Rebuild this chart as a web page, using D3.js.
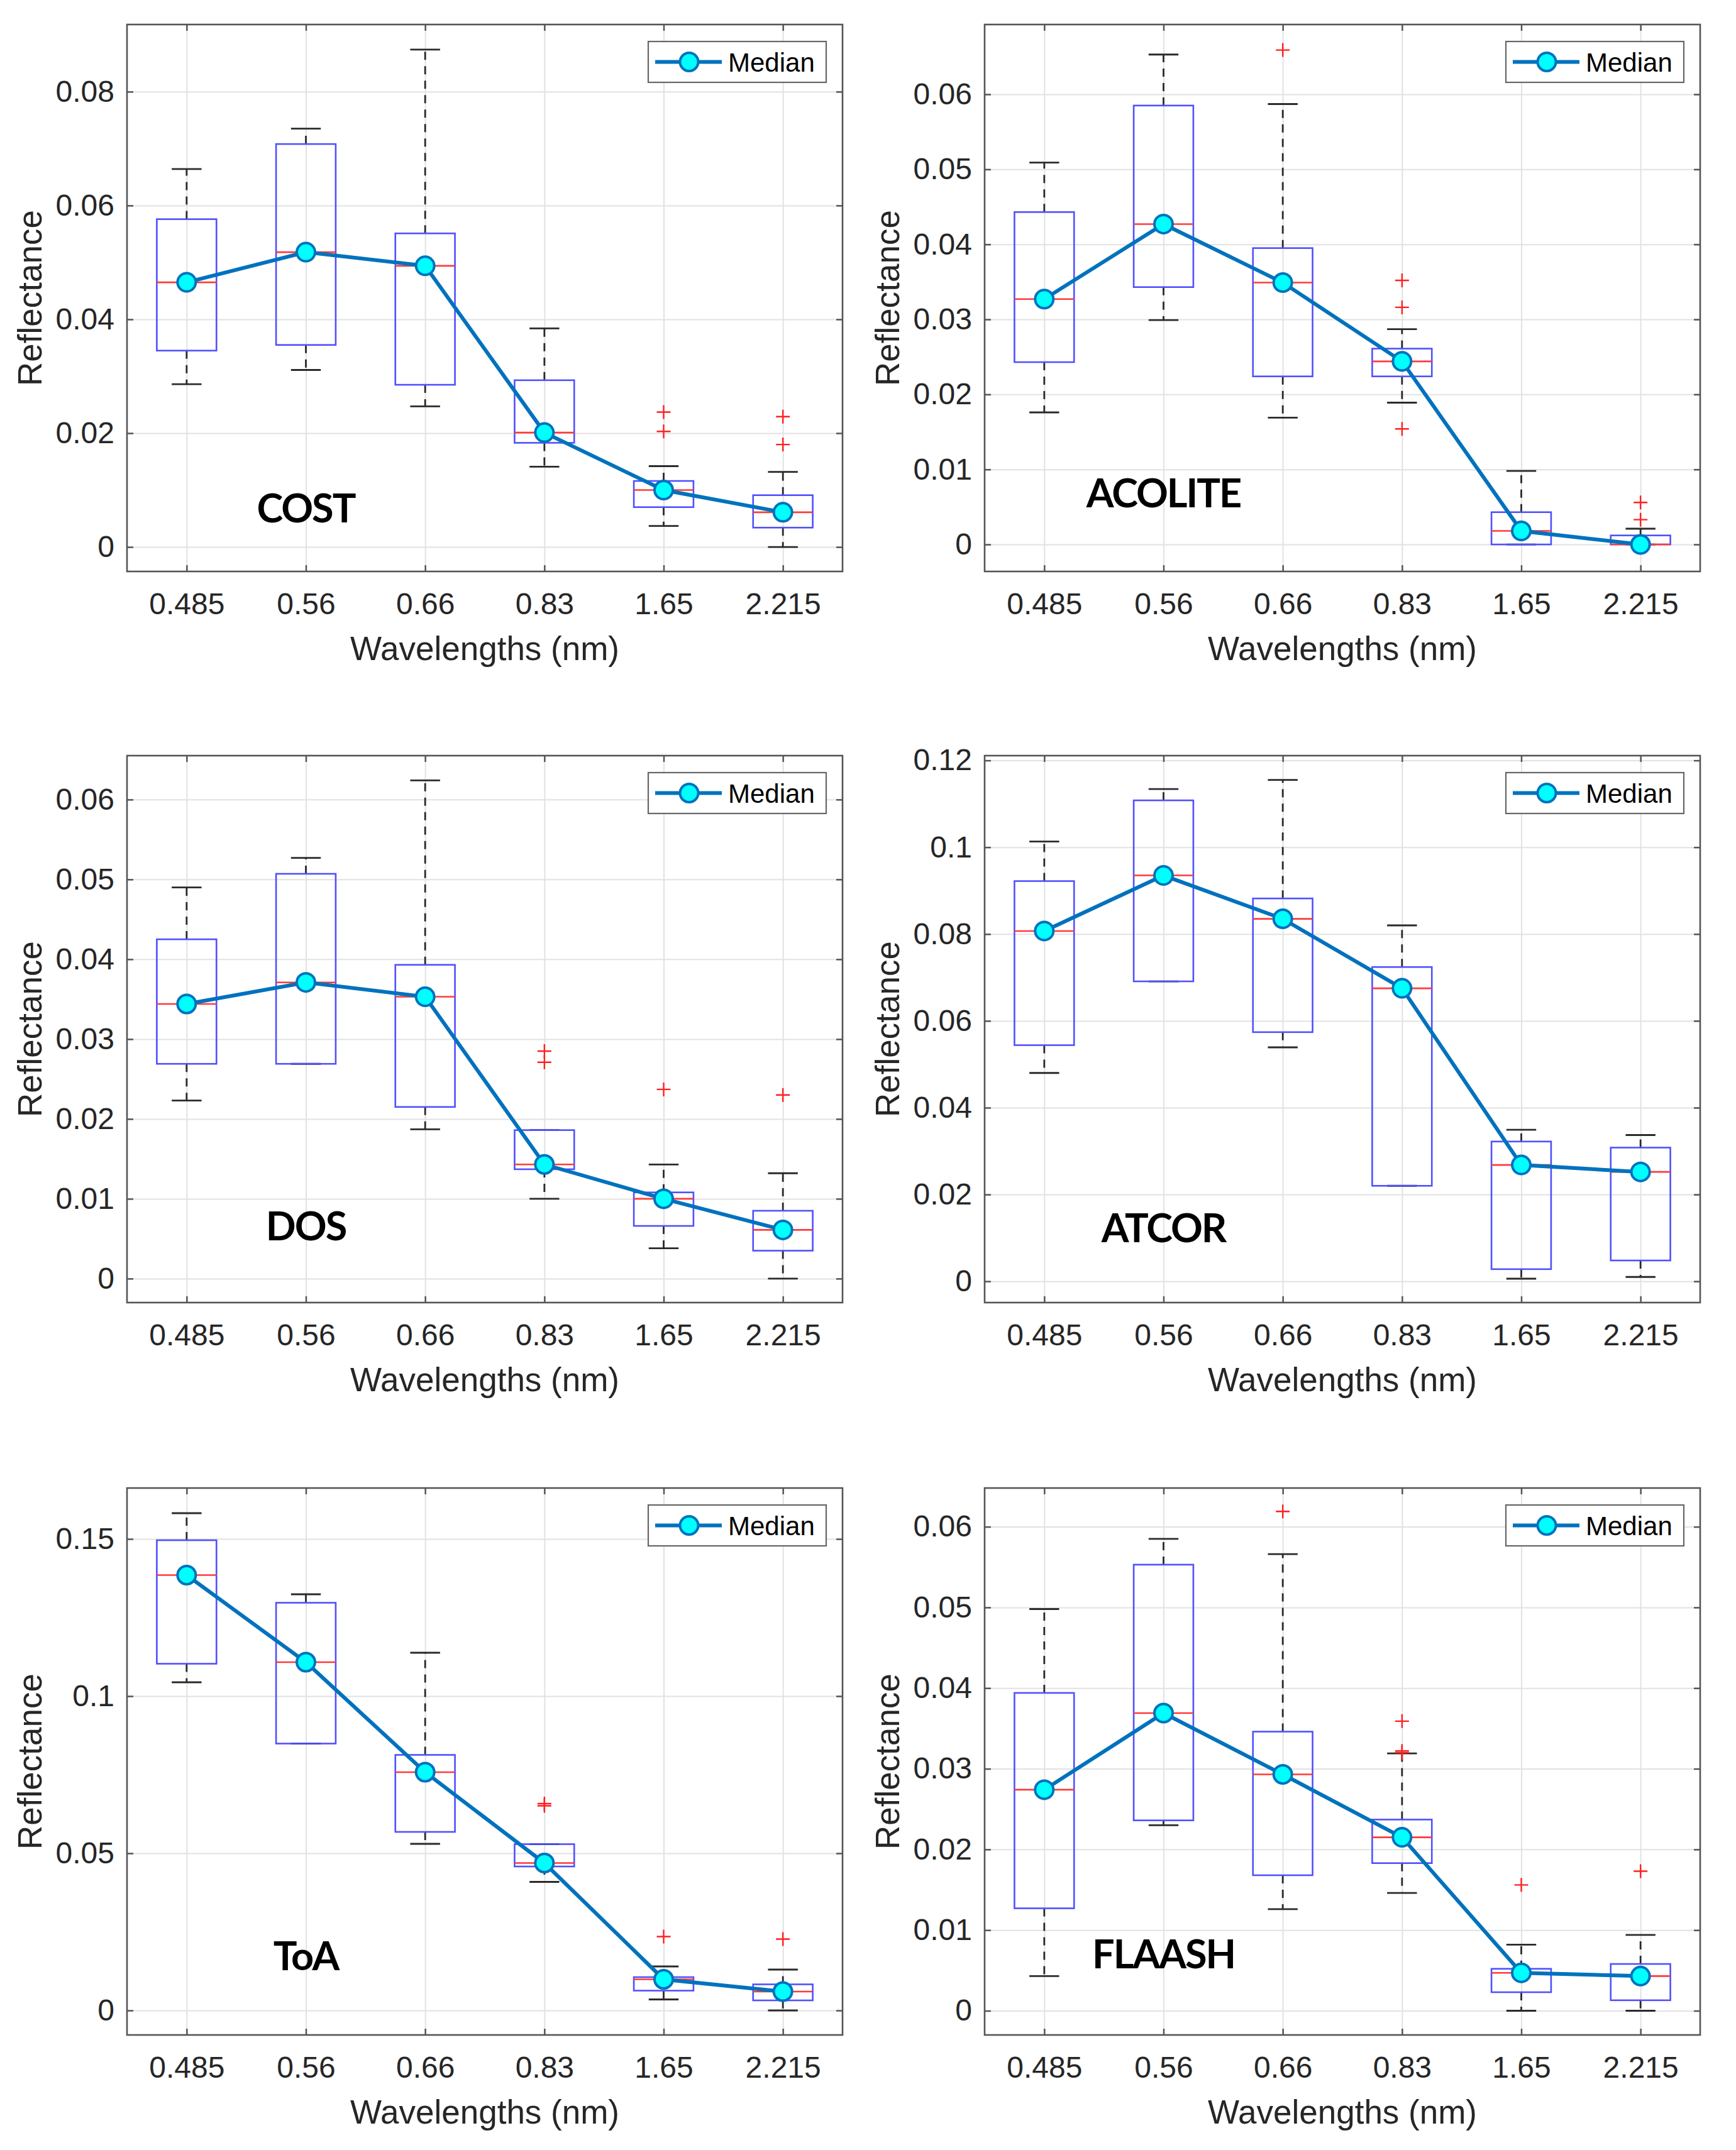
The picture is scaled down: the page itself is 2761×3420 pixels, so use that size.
<!DOCTYPE html>
<html>
<head>
<meta charset="utf-8">
<script src="https://cdn.jsdelivr.net/npm/d3@7"></script>
<style>
  body { margin: 0; background: #fff; }
</style>
</head>
<body>
<div id="chart"></div>
<script>
// data
var categories = ["0.485", "0.56", "0.66", "0.83", "1.65", "2.215"];
var methods = ["COST", "ACOLITE", "DOS", "ATCOR", "ToA", "FLAASH"];

// one row per method, one value per wavelength
var whiskerLow = [
  [0.0286, 0.0311, 0.0247, 0.0141, 0.0037, 0.0],
  [0.0176, 0.0299, 0.0169, 0.0189, 0.0, 0.0],
  [0.0223, 0.0269, 0.0187, 0.0100, 0.0038, 0.0],
  [0.0480, 0.0691, 0.0539, 0.0220, 0.0006, 0.0010],
  [0.1044, 0.0849, 0.0530, 0.0409, 0.0035, 0.0],
  [0.0043, 0.0230, 0.0126, 0.0146, 0.0, 0.0],
];
var quartile1 = [
  [0.0345, 0.0355, 0.0285, 0.0183, 0.0070, 0.0034],
  [0.0243, 0.0343, 0.0224, 0.0224, 0.0, 0.0],
  [0.0269, 0.0269, 0.0215, 0.0137, 0.0066, 0.0035],
  [0.0544, 0.0691, 0.0574, 0.0220, 0.0028, 0.0048],
  [0.1103, 0.0849, 0.0568, 0.0458, 0.0063, 0.0032],
  [0.0127, 0.0236, 0.0168, 0.0183, 0.0023, 0.0013],
];
var medians = [
  [0.0465, 0.0518, 0.0494, 0.0201, 0.0100, 0.0061],
  [0.0327, 0.0427, 0.0349, 0.0244, 0.0018, 0.0],
  [0.0344, 0.0371, 0.0353, 0.0143, 0.0100, 0.0061],
  [0.0807, 0.0935, 0.0835, 0.0675, 0.0268, 0.0252],
  [0.1385, 0.1108, 0.0758, 0.0469, 0.0099, 0.0060],
  [0.0274, 0.0369, 0.0293, 0.0215, 0.0047, 0.0043],
];
var quartile3 = [
  [0.0576, 0.0708, 0.0551, 0.0293, 0.0116, 0.0091],
  [0.0443, 0.0585, 0.0395, 0.0261, 0.0043, 0.0012],
  [0.0425, 0.0507, 0.0393, 0.0186, 0.0108, 0.0085],
  [0.0922, 0.1108, 0.0882, 0.0724, 0.0322, 0.0308],
  [0.1496, 0.1297, 0.0813, 0.0529, 0.0106, 0.0083],
  [0.0394, 0.0553, 0.0346, 0.0237, 0.0052, 0.0058],
];
var whiskerHigh = [
  [0.0664, 0.0735, 0.0874, 0.0384, 0.0142, 0.0132],
  [0.0509, 0.0653, 0.0587, 0.0287, 0.0098, 0.0021],
  [0.0490, 0.0527, 0.0624, 0.0186, 0.0143, 0.0132],
  [0.1013, 0.1134, 0.1155, 0.0820, 0.0349, 0.0337],
  [0.1582, 0.1324, 0.1138, 0.0529, 0.0140, 0.0130],
  [0.0498, 0.0585, 0.0566, 0.0319, 0.0082, 0.0094],
];
var outliers = [
  [[], [], [], [], [0.0237, 0.0203], [0.0229, 0.0180]],
  [[], [], [0.0659], [0.0352, 0.0316, 0.0154], [], [0.0056, 0.0033]],
  [[], [], [], [0.0285, 0.0271], [0.0237], [0.0230]],
  [[], [], [], [], [], []],
  [[], [], [], [0.0658, 0.0651], [0.0235], [0.0227]],
  [[], [], [0.0619], [0.0359, 0.0322, 0.0320], [0.0156], [0.0173]],
];

// y axis limits and ticks for each panel
var yMin = [-0.0043, -0.0036, -0.003, -0.0049, -0.0078, -0.003];
var yMax = [0.0918, 0.0693, 0.0655, 0.1211, 0.1662, 0.0648];
var yTicks = [
  [0, 0.02, 0.04, 0.06, 0.08],
  [0, 0.01, 0.02, 0.03, 0.04, 0.05, 0.06],
  [0, 0.01, 0.02, 0.03, 0.04, 0.05, 0.06],
  [0, 0.02, 0.04, 0.06, 0.08, 0.1, 0.12],
  [0, 0.05, 0.1, 0.15],
  [0, 0.01, 0.02, 0.03, 0.04, 0.05, 0.06],
];
// height (reflectance) where the method name sits
var labelValue = [0.007, 0.007, 0.0067, 0.0125, 0.0178, 0.0072];

// layout
var width = 2761,
  height = 3420;
var plotW = 1138,
  plotH = 870;
var colLeft = [202, 1566];
var rowTop = [39, 1202, 2367];

var tickFont = "'Liberation Sans', Arial, sans-serif";
var textColor = "#262626";

var svg = d3
  .select("#chart")
  .append("svg")
  .attr("width", width)
  .attr("height", height);

svg.append("rect").attr("width", width).attr("height", height).attr("fill", "#fff");

methods.forEach(function (name, m) {
  var left = colLeft[m % 2];
  var top = rowTop[Math.floor(m / 2)];
  var g = svg.append("g").attr("transform", "translate(" + left + "," + top + ")");

  var xScale = d3.scalePoint().domain(categories).range([0, plotW]).padding(0.5);
  var yScale = d3.scaleLinear().domain([yMin[m], yMax[m]]).range([plotH, 0]);
  var step = xScale.step();
  var boxW = step * 0.5;
  var capW = step * 0.25;

  // grid
  g.append("g")
    .attr("class", "grid")
    .call(d3.axisLeft(yScale).tickValues(yTicks[m]).tickSize(-plotW).tickFormat(""));
  g.append("g")
    .attr("class", "grid")
    .attr("transform", "translate(0," + plotH + ")")
    .call(d3.axisBottom(xScale).tickSize(-plotH).tickFormat(""));
  g.selectAll(".grid .domain").remove();
  g.selectAll(".grid line").attr("stroke", "#e2e2e2").attr("stroke-width", 2);

  // axes with inward ticks
  var yAxis = g
    .append("g")
    .call(
      d3.axisLeft(yScale).tickValues(yTicks[m]).tickSize(-10).tickPadding(20)
        .tickFormat(d3.format("~g"))
    );
  var yAxisR = g
    .append("g")
    .attr("transform", "translate(" + plotW + ",0)")
    .call(d3.axisRight(yScale).tickValues(yTicks[m]).tickSize(-10).tickFormat(""));
  var xAxis = g
    .append("g")
    .attr("transform", "translate(0," + plotH + ")")
    .call(d3.axisBottom(xScale).tickSize(-10).tickPadding(34));
  var xAxisT = g
    .append("g")
    .call(d3.axisTop(xScale).tickSize(-10).tickFormat(""));
  [yAxis, yAxisR, xAxis, xAxisT].forEach(function (a) {
    a.select(".domain").remove();
    a.selectAll("line").attr("stroke", "#555").attr("stroke-width", 2.5);
    a.selectAll("text")
      .attr("font-family", tickFont)
      .attr("font-size", 48)
      .attr("fill", textColor);
  });
  xAxis.selectAll("text").attr("dy", "0.71em");

  var boxData = categories.map(function (c, i) {
    return {
      cat: c,
      low: whiskerLow[m][i],
      q1: quartile1[m][i],
      med: medians[m][i],
      q3: quartile3[m][i],
      high: whiskerHigh[m][i],
      out: outliers[m][i],
    };
  });

  var boxG = g.selectAll(".box").data(boxData).enter().append("g").attr("class", "box");

  // dashed whiskers
  boxG
    .filter(function (d) { return d.high > d.q3; })
    .append("line")
    .attr("x1", function (d) { return xScale(d.cat); })
    .attr("x2", function (d) { return xScale(d.cat); })
    .attr("y1", function (d) { return yScale(d.q3); })
    .attr("y2", function (d) { return yScale(d.high); });
  boxG
    .filter(function (d) { return d.low < d.q1; })
    .append("line")
    .attr("x1", function (d) { return xScale(d.cat); })
    .attr("x2", function (d) { return xScale(d.cat); })
    .attr("y1", function (d) { return yScale(d.q1); })
    .attr("y2", function (d) { return yScale(d.low); });
  boxG.selectAll("line")
    .attr("stroke", "#2a2a2a")
    .attr("stroke-width", 2.8)
    .attr("stroke-dasharray", "13,10");

  // whisker caps
  ["low", "high"].forEach(function (k) {
    boxG
      .append("line")
      .attr("x1", function (d) { return xScale(d.cat) - capW / 2; })
      .attr("x2", function (d) { return xScale(d.cat) + capW / 2; })
      .attr("y1", function (d) { return yScale(d[k]); })
      .attr("y2", function (d) { return yScale(d[k]); })
      .attr("stroke", "#2a2a2a")
      .attr("stroke-width", 2.8);
  });

  // boxes
  boxG
    .append("rect")
    .attr("x", function (d) { return xScale(d.cat) - boxW / 2; })
    .attr("y", function (d) { return yScale(d.q3); })
    .attr("width", boxW)
    .attr("height", function (d) { return Math.max(yScale(d.q1) - yScale(d.q3), 0.5); })
    .attr("fill", "none")
    .attr("stroke", "#5050ff")
    .attr("stroke-width", 2.6);

  // red median
  boxG
    .append("line")
    .attr("x1", function (d) { return xScale(d.cat) - boxW / 2; })
    .attr("x2", function (d) { return xScale(d.cat) + boxW / 2; })
    .attr("y1", function (d) { return yScale(d.med); })
    .attr("y2", function (d) { return yScale(d.med); })
    .attr("stroke", "#ff3a3a")
    .attr("stroke-width", 2.6);

  // outliers as "+"
  boxG.each(function (d) {
    var cx = xScale(d.cat);
    d3.select(this)
      .selectAll(".out")
      .data(d.out)
      .enter()
      .append("path")
      .attr("class", "out")
      .attr("d", function (v) {
        var cy = yScale(v);
        return "M" + (cx - 11) + "," + cy + "H" + (cx + 11) + "M" + cx + "," + (cy - 11) + "V" + (cy + 11);
      })
      .attr("stroke", "#ff2020")
      .attr("stroke-width", 2.4)
      .attr("fill", "none");
  });

  // median line
  var line = d3
    .line()
    .x(function (d) { return xScale(d.cat); })
    .y(function (d) { return yScale(d.med); });
  g.append("path")
    .datum(boxData)
    .attr("d", line)
    .attr("fill", "none")
    .attr("stroke", "#0072BD")
    .attr("stroke-width", 6);
  g.selectAll(".dot")
    .data(boxData)
    .enter()
    .append("circle")
    .attr("class", "dot")
    .attr("cx", function (d) { return xScale(d.cat); })
    .attr("cy", function (d) { return yScale(d.med); })
    .attr("r", 14.5)
    .attr("fill", "#00ffff")
    .attr("stroke", "#0072BD")
    .attr("stroke-width", 4);

  // method name
  g.append("text")
    .text(name)
    .attr("x", xScale(categories[1]))
    .attr("y", yScale(labelValue[m]))
    .attr("text-anchor", "middle")
    .attr("dominant-baseline", "central")
    .attr("font-family", "Lato, 'Open Sans', sans-serif")
    .attr("font-weight", "bold")
    .attr("font-size", 63)
    .attr("letter-spacing", -2)
    .attr("fill", "#000");

  // frame
  g.append("rect")
    .attr("width", plotW)
    .attr("height", plotH)
    .attr("fill", "none")
    .attr("stroke", "#555")
    .attr("stroke-width", 2.6);

  // legend
  var legW = 283, legH = 65;
  var leg = g.append("g").attr("transform", "translate(" + (plotW - 26 - legW) + ",27)");
  leg.append("rect")
    .attr("width", legW)
    .attr("height", legH)
    .attr("fill", "#fff")
    .attr("stroke", "#666")
    .attr("stroke-width", 2.2);
  leg.append("line")
    .attr("x1", 11).attr("x2", 117)
    .attr("y1", legH / 2).attr("y2", legH / 2)
    .attr("stroke", "#0072BD")
    .attr("stroke-width", 6);
  leg.append("circle")
    .attr("cx", 65).attr("cy", legH / 2).attr("r", 14.5)
    .attr("fill", "#00ffff")
    .attr("stroke", "#0072BD")
    .attr("stroke-width", 4);
  leg.append("text")
    .text("Median")
    .attr("x", 127)
    .attr("y", legH / 2)
    .attr("dy", "0.36em")
    .attr("font-family", tickFont)
    .attr("font-size", 42)
    .attr("fill", "#000");

  // axis titles
  g.append("text")
    .text("Wavelengths (nm)")
    .attr("x", plotW / 2)
    .attr("y", plotH + 122)
    .attr("dy", "0.36em")
    .attr("text-anchor", "middle")
    .attr("font-family", tickFont)
    .attr("font-size", 53)
    .attr("fill", textColor);
  g.append("text")
    .text("Reflectance")
    .attr("transform", "translate(-155," + plotH / 2 + ") rotate(-90)")
    .attr("dy", "0.36em")
    .attr("text-anchor", "middle")
    .attr("font-family", tickFont)
    .attr("font-size", 53)
    .attr("fill", textColor);
});
</script>
</body>
</html>
